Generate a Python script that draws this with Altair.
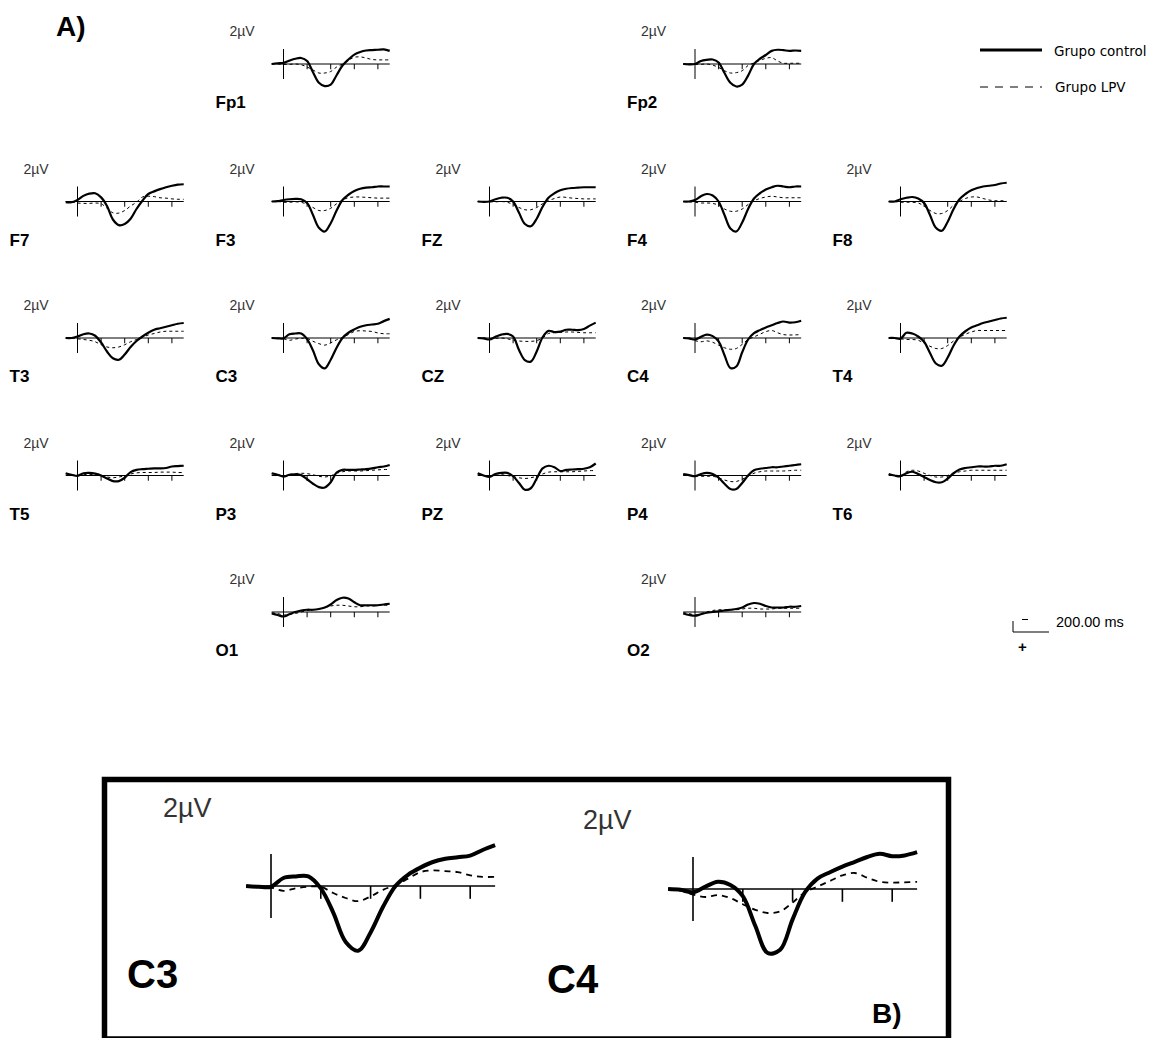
import altair as alt
import pandas as pd

# ---------------------------------------------------------------------------
# Grand-average ERP waveforms (µV, negative plotted upward), sampled every 50 ms
# ---------------------------------------------------------------------------
TIMES = list(range(-100, 901, 50))
TICKS_MS = [200, 400, 600, 800]
T_START, T_END = -100, 900

control = {
    "Fp1": [0.0, -0.1, -0.15, -0.45, -0.7, -0.8, -0.4, 1.1, 2.5, 2.95, 2.75, 1.5, 0.2, -0.6, -1.25, -1.6, -1.8, -1.85, -1.9, -1.95, -1.75],
    "Fp2": [0.0, 0.05, 0.0, -0.4, -0.55, -0.6, -0.2, 1.2, 2.5, 3.0, 2.75, 1.55, 0.0, -0.7, -1.2, -1.75, -1.9, -1.85, -1.75, -1.8, -1.75],
    "F7": [0.1, 0.1, -0.2, -0.75, -1.05, -1.1, -0.55, 0.6, 2.4, 3.15, 3.0, 2.3, 1.0, -0.1, -1.0, -1.35, -1.65, -1.9, -2.1, -2.25, -2.3],
    "F3": [0.0, -0.05, -0.2, -0.3, -0.35, -0.3, 0.2, 1.8, 3.5, 4.0, 2.9, 1.2, -0.2, -0.9, -1.4, -1.7, -1.85, -1.9, -2.0, -2.0, -2.0],
    "FZ": [0.0, 0.05, 0.0, -0.3, -0.5, -0.5, 0.0, 1.5, 3.0, 3.3, 2.3, 0.7, -0.5, -1.1, -1.5, -1.7, -1.8, -1.85, -1.9, -1.9, -1.9],
    "F4": [0.0, 0.0, -0.2, -0.7, -1.0, -0.8, 0.0, 1.8, 3.6, 4.0, 2.8, 1.0, -0.4, -1.1, -1.6, -1.9, -2.1, -2.0, -1.9, -2.0, -2.0],
    "F8": [0.0, 0.0, -0.3, -0.5, -0.6, -0.4, 0.2, 1.8, 3.5, 3.9, 2.7, 1.0, -0.3, -1.0, -1.5, -1.8, -2.0, -2.1, -2.2, -2.4, -2.5],
    "T3": [0.0, 0.0, -0.2, -0.5, -0.6, -0.3, 0.6, 1.8, 2.7, 2.9, 2.2, 1.2, 0.4, -0.2, -0.7, -1.1, -1.3, -1.5, -1.7, -1.9, -2.0],
    "C3": [0.0, 0.05, 0.05, -0.5, -0.6, -0.6, 0.15, 1.66, 3.5, 4.05, 2.9, 1.3, 0.0, -0.7, -1.15, -1.5, -1.7, -1.8, -1.9, -2.25, -2.55],
    "CZ": [0.0, 0.05, 0.2, -0.15, -0.45, -0.55, -0.2, 1.6, 2.95, 3.15, 1.8, -0.1, -0.95, -0.8, -0.85, -1.1, -1.1, -1.05, -1.2, -1.65, -2.05],
    "C4": [0.0, 0.05, 0.2, -0.15, -0.45, -0.25, 0.45, 2.3, 4.0, 3.8, 1.9, 0.2, -0.65, -1.05, -1.4, -1.7, -2.0, -2.2, -2.05, -2.1, -2.3],
    "T4": [0.0, 0.0, 0.1, -0.7, -0.6, -0.2, 0.5, 2.0, 3.4, 3.7, 2.6, 1.0, -0.2, -0.9, -1.4, -1.7, -2.0, -2.2, -2.4, -2.6, -2.7],
    "T5": [-0.3, -0.1, 0.05, -0.3, -0.35, -0.25, 0.0, 0.4, 0.75, 0.75, 0.3, -0.45, -0.75, -0.85, -0.9, -0.95, -0.95, -1.0, -1.2, -1.25, -1.3],
    "P3": [-0.3, -0.1, 0.15, -0.1, -0.15, -0.05, 0.5, 1.1, 1.55, 1.6, 0.9, -0.4, -0.75, -0.75, -0.75, -0.8, -0.85, -0.95, -1.1, -1.2, -1.4],
    "PZ": [-0.3, 0.0, 0.2, -0.2, -0.35, -0.35, 0.1, 1.0, 1.9, 1.7, 0.4, -0.95, -1.3, -1.1, -0.6, -0.75, -0.8, -0.85, -0.9, -1.1, -1.6],
    "P4": [-0.2, -0.05, 0.1, -0.2, -0.35, -0.2, 0.3, 1.1, 1.8, 1.8, 1.0, 0.0, -0.7, -0.9, -1.0, -1.1, -1.1, -1.2, -1.3, -1.4, -1.5],
    "T6": [-0.2, 0.0, 0.1, -0.3, -0.5, -0.2, 0.2, 0.6, 0.9, 0.9, 0.4, -0.3, -0.8, -1.0, -1.1, -1.2, -1.2, -1.2, -1.3, -1.3, -1.5],
    "O1": [0.2, 0.4, 0.6, 0.3, 0.0, -0.2, -0.3, -0.3, -0.4, -0.6, -1.0, -1.6, -1.9, -1.8, -1.3, -0.9, -0.9, -0.9, -0.9, -1.0, -1.1],
    "O2": [0.2, 0.4, 0.5, 0.3, 0.1, 0.0, -0.1, -0.2, -0.3, -0.4, -0.6, -1.0, -1.2, -1.1, -0.8, -0.6, -0.6, -0.6, -0.7, -0.7, -0.8],
}

lpv = {
    "Fp1": [0.0, 0.0, 0.05, 0.05, 0.0, 0.1, 0.4, 0.8, 1.2, 1.2, 1.0, 0.4, 0.0, -0.5, -0.9, -0.95, -0.8, -0.6, -0.55, -0.55, -0.55],
    "Fp2": [0.0, 0.0, 0.05, 0.05, 0.0, 0.15, 0.45, 0.9, 1.2, 1.15, 0.9, 0.2, -0.15, -0.5, -0.75, -0.85, -0.4, -0.1, -0.1, -0.1, -0.1],
    "F7": [0.0, 0.05, 0.2, 0.25, 0.25, 0.2, 0.3, 0.9, 1.5, 1.55, 1.2, 0.6, 0.1, -0.6, -0.7, -0.65, -0.5, -0.45, -0.35, -0.3, -0.3],
    "F3": [0.0, 0.0, 0.1, 0.1, 0.05, 0.1, 0.4, 0.8, 1.2, 1.2, 0.9, 0.3, -0.2, -0.5, -0.6, -0.6, -0.55, -0.5, -0.45, -0.45, -0.45],
    "FZ": [0.0, 0.0, 0.05, 0.05, 0.0, 0.1, 0.4, 0.8, 1.1, 1.1, 0.8, 0.3, -0.1, -0.4, -0.6, -0.55, -0.45, -0.4, -0.35, -0.35, -0.35],
    "F4": [0.0, 0.05, 0.1, 0.2, 0.2, 0.25, 0.5, 1.0, 1.3, 1.3, 1.0, 0.4, -0.1, -0.4, -0.6, -0.7, -0.6, -0.5, -0.5, -0.5, -0.5],
    "F8": [0.0, 0.0, 0.1, 0.1, 0.1, 0.2, 0.6, 1.2, 1.6, 1.6, 1.2, 0.5, 0.0, -0.4, -0.6, -0.6, -0.4, -0.2, -0.1, -0.1, -0.1],
    "T3": [0.0, 0.0, 0.1, 0.2, 0.3, 0.5, 0.9, 1.2, 1.3, 1.2, 0.9, 0.5, 0.2, -0.1, -0.4, -0.6, -0.8, -0.9, -0.9, -0.9, -0.9],
    "C3": [0.0, 0.0, 0.1, 0.3, 0.14, 0.04, 0.05, 0.44, 0.75, 0.95, 0.65, 0.24, -0.06, -0.46, -0.87, -0.97, -0.93, -0.87, -0.67, -0.57, -0.57],
    "CZ": [0.0, 0.0, 0.1, 0.05, 0.0, 0.1, 0.3, 0.4, 0.45, 0.45, 0.35, 0.0, -0.6, -0.7, -0.75, -0.8, -0.8, -0.75, -0.7, -0.7, -0.7],
    "C4": [0.0, 0.1, 0.35, 0.5, 0.38, 0.57, 0.95, 1.3, 1.5, 1.4, 0.85, 0.2, -0.15, -0.5, -0.85, -1.0, -0.7, -0.45, -0.4, -0.42, -0.45],
    "T4": [0.0, 0.0, 0.1, 0.2, 0.2, 0.3, 0.7, 1.1, 1.4, 1.4, 1.0, 0.4, -0.1, -0.5, -0.8, -1.0, -1.0, -1.0, -1.0, -1.0, -1.0],
    "T5": [-0.2, -0.1, 0.0, -0.1, -0.15, -0.1, 0.05, 0.2, 0.3, 0.2, 0.05, -0.2, -0.35, -0.4, -0.4, -0.4, -0.45, -0.45, -0.45, -0.4, -0.4],
    "P3": [-0.2, -0.1, 0.05, -0.15, -0.25, -0.3, -0.25, -0.1, 0.1, 0.2, 0.05, -0.3, -0.5, -0.6, -0.6, -0.6, -0.65, -0.7, -0.75, -0.8, -0.8],
    "PZ": [-0.2, 0.0, 0.1, 0.0, -0.1, 0.0, 0.15, 0.3, 0.4, 0.3, 0.1, -0.2, -0.45, -0.5, -0.5, -0.5, -0.5, -0.55, -0.6, -0.65, -0.65],
    "P4": [-0.1, 0.0, 0.05, 0.1, 0.1, 0.1, 0.3, 0.6, 0.8, 0.8, 0.5, 0.1, -0.3, -0.5, -0.6, -0.6, -0.6, -0.6, -0.65, -0.7, -0.7],
    "T6": [-0.1, 0.0, 0.0, -0.5, -0.7, -0.6, -0.3, 0.0, 0.2, 0.2, 0.0, -0.3, -0.5, -0.6, -0.7, -0.7, -0.7, -0.7, -0.7, -0.7, -0.7],
    "O1": [0.1, 0.2, 0.4, 0.3, 0.2, 0.0, -0.2, -0.3, -0.4, -0.6, -0.8, -0.9, -0.9, -0.8, -0.7, -0.7, -0.8, -0.8, -0.9, -0.9, -0.9],
    "O2": [0.1, 0.2, 0.4, 0.2, 0.0, -0.2, -0.3, -0.3, -0.3, -0.3, -0.4, -0.5, -0.5, -0.4, -0.4, -0.4, -0.5, -0.5, -0.5, -0.5, -0.5],
}

# 10-20 montage placement: (column, row)
GRID = {
    "Fp1": (1, 0), "Fp2": (3, 0),
    "F7": (0, 1), "F3": (1, 1), "FZ": (2, 1), "F4": (3, 1), "F8": (4, 1),
    "T3": (0, 2), "C3": (1, 2), "CZ": (2, 2), "C4": (3, 2), "T4": (4, 2),
    "T5": (0, 3), "P3": (1, 3), "PZ": (2, 3), "P4": (3, 3), "T6": (4, 3),
    "O1": (1, 4), "O2": (3, 4),
}
COL_T0 = [77.5, 283.5, 489.5, 695.0, 900.5]      # pixel x of stimulus onset
ROW_BASE = [64.0, 201.5, 338.0, 475.5, 612.0]    # pixel y of the 0 µV line

SMALL = dict(width=118, k=7.5, solid=2.2, dashed=1.0, dash=[3, 3], axis=1.0,
             tick=0.7, unit_dx=-54, unit_dy=-28, unit_size=14,
             name_dx=-68, name_dy=44, name_size=17)
BIG = dict(width=249, k=16.0, solid=4.0, dashed=1.8, dash=[6, 5], axis=1.6,
           tick=0.8, unit_size=27, name_size=40)

# enlarged panels of part B: onset x, baseline y and label anchors
BIG_PANELS = {
    "C3": dict(t0=271.0, base=886.0, unit=(163, 817), name=(127, 988)),
    "C4": dict(t0=693.0, base=889.0, unit=(583, 829), name=(547, 993)),
}

FONT = "Liberation Sans"
ONE_ROW = pd.DataFrame({"k": [0]})


def waveform_panel(name, t0, base, st):
    span = T_END - T_START
    ms_px = st["width"] / span
    xs = alt.Scale(domain=[T_START, T_END],
                   range=[t0 + T_START * ms_px, t0 + T_END * ms_px],
                   nice=False, zero=False)
    k = st["k"]
    ys = alt.Scale(domain=[-4, 4], range=[base - 4 * k, base + 4 * k],
                   nice=False, zero=False)

    base_line = alt.Chart(ONE_ROW).mark_rule(color="black", strokeWidth=st["axis"]).encode(
        x=alt.XDatum(T_START, scale=xs, axis=None), x2=alt.datum(T_END),
        y=alt.YDatum(0, scale=ys, axis=None))
    onset = alt.Chart(ONE_ROW).mark_rule(color="black", strokeWidth=st["axis"]).encode(
        x=alt.XDatum(0, scale=xs, axis=None),
        y=alt.YDatum(-2, scale=ys, axis=None), y2=alt.datum(2))
    ticks = alt.Chart(pd.DataFrame({"t": TICKS_MS})).mark_rule(
        color="black", strokeWidth=st["axis"]).encode(
        x=alt.X("t:Q", scale=xs, axis=None),
        y=alt.YDatum(0, scale=ys, axis=None), y2=alt.datum(st["tick"]))

    df_c = pd.DataFrame({"t": TIMES, "v": control[name]})
    df_l = pd.DataFrame({"t": TIMES, "v": lpv[name]})
    dashed = alt.Chart(df_l).mark_line(
        color="black", strokeWidth=st["dashed"], strokeDash=st["dash"],
        interpolate="catmull-rom").encode(
        x=alt.X("t:Q", scale=xs, axis=None), y=alt.Y("v:Q", scale=ys, axis=None))
    solid = alt.Chart(df_c).mark_line(
        color="black", strokeWidth=st["solid"], interpolate="catmull-rom").encode(
        x=alt.X("t:Q", scale=xs, axis=None), y=alt.Y("v:Q", scale=ys, axis=None))
    return alt.layer(base_line, onset, ticks, dashed, solid)


def label(text, x, y, size, bold=False, color="black", font=FONT):
    return alt.Chart(ONE_ROW).mark_text(
        align="left", baseline="alphabetic", fontSize=size, font=font,
        fontWeight="bold" if bold else "normal", color=color).encode(
        x=alt.value(x), y=alt.value(y), text=alt.value(text))


def hline(x1, x2, y, width, dash=None):
    kw = dict(color="black", strokeWidth=width)
    if dash:
        kw["strokeDash"] = dash
    return alt.Chart(ONE_ROW).mark_rule(**kw).encode(
        x=alt.value(x1), x2=alt.value(x2), y=alt.value(y))


layers = []

# Part A: montage of small panels
for name, (c, r) in GRID.items():
    t0, base = COL_T0[c], ROW_BASE[r]
    layers.append(waveform_panel(name, t0, base, SMALL))
    layers.append(label("2µV", t0 + SMALL["unit_dx"], base + SMALL["unit_dy"],
                        SMALL["unit_size"], color="#333333"))
    layers.append(label(name, t0 + SMALL["name_dx"], base + SMALL["name_dy"],
                        SMALL["name_size"], bold=True))

layers.append(label("A)", 56, 36, 28, bold=True))

# legend
layers.append(hline(980, 1042, 50, 3))
layers.append(hline(980, 1042, 87, 1.1, dash=[8, 7]))
layers.append(label("Grupo control", 1054, 56, 13.5, font="DejaVu Sans"))
layers.append(label("Grupo LPV", 1055, 92, 13.5, font="DejaVu Sans"))

# calibration mark
layers.append(alt.Chart(ONE_ROW).mark_rule(color="black", strokeWidth=1).encode(
    x=alt.value(1013), y=alt.value(621), y2=alt.value(632)))
layers.append(hline(1013, 1049, 632, 1))
layers.append(hline(1022, 1028, 619.5, 1))
layers.append(label("+", 1018, 652, 15, bold=True))
layers.append(label("200.00 ms", 1056, 627, 14.5))

# Part B: framed enlargement of C3 and C4
layers.append(alt.Chart(ONE_ROW).mark_rect(
    fillOpacity=0, stroke="black", strokeWidth=5.5).encode(
    x=alt.value(104.5), x2=alt.value(948.5), y=alt.value(779.5), y2=alt.value(1039)))
for name, p in BIG_PANELS.items():
    layers.append(waveform_panel(name, p["t0"], p["base"], BIG))
    layers.append(label("2µV", p["unit"][0], p["unit"][1], BIG["unit_size"], color="#333333"))
    layers.append(label(name, p["name"][0], p["name"][1], BIG["name_size"], bold=True))
layers.append(label("B)", 872, 1023, 28, bold=True))

chart = alt.layer(*layers).resolve_scale(
    x="independent", y="independent"
).properties(
    width=1157, height=1038,
    autosize=alt.AutoSizeParams(type="none"),
    padding=0, background="white",
).configure_view(stroke=None).configure_axis(disable=True)

chart.save("out.html", embed_options={"renderer": "svg", "actions": False})
